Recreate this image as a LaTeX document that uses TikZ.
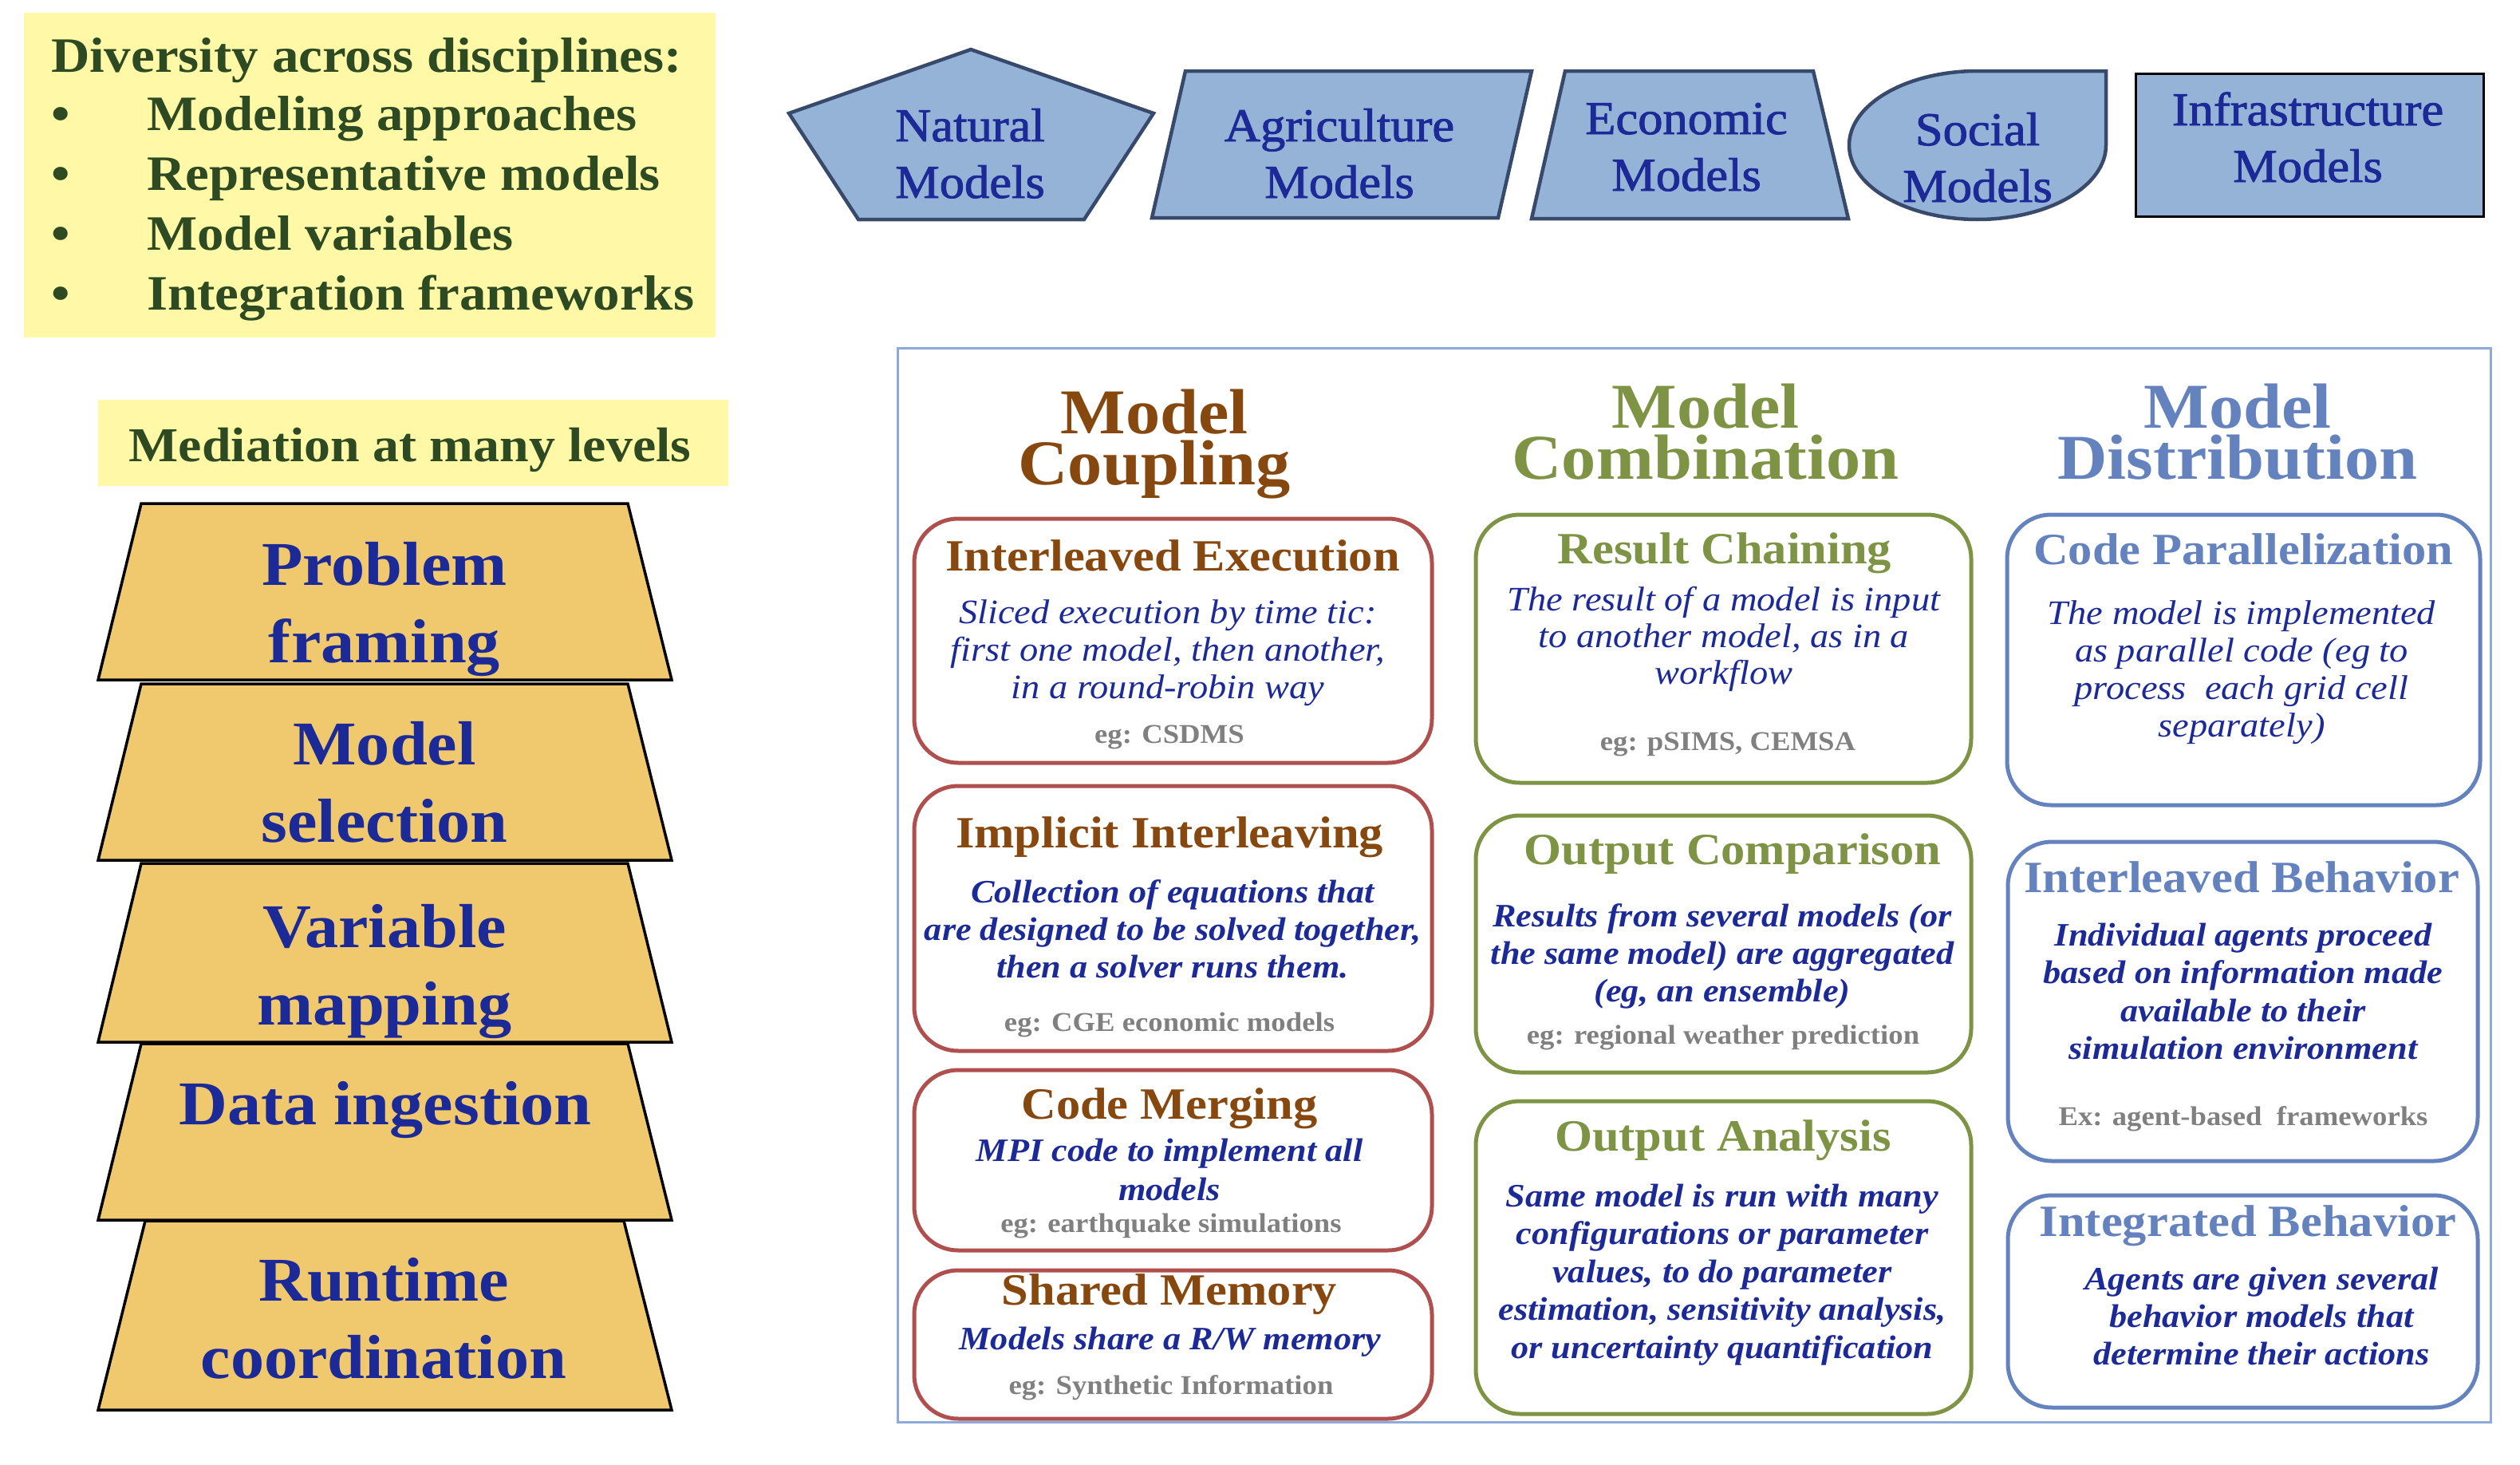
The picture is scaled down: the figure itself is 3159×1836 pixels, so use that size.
\documentclass[tikz,border=0pt]{standalone}
\usepackage{fontspec}
\setmainfont{Liberation Serif}[FakeStretch=1.08]
\newfontfamily\modelfont{Liberation Serif}[FakeStretch=1.06, FakeBold=1.6]

\definecolor{notebg}{HTML}{FFF8A6}
\definecolor{notetext}{HTML}{2E4A22}
\definecolor{modelfill}{HTML}{95B3D7}
\definecolor{modeledge}{HTML}{384A6B}
\definecolor{navy}{HTML}{1C2A97}
\definecolor{layerfill}{HTML}{F0C96E}
\definecolor{couplehead}{HTML}{87480F}
\definecolor{coupleedge}{HTML}{B0504E}
\definecolor{combohead}{HTML}{7E9444}
\definecolor{distrohead}{HTML}{6482BD}
\definecolor{framecol}{HTML}{8EAADB}
\definecolor{examplegray}{HTML}{808080}

% centred stack of lines whose baseline is the first line's baseline
\newcommand\lines[1]{\vtop{\lineskiplimit=-200pt\lineskip=0pt\halign{\hfil##\hfil\cr#1\crcr}}}

\begin{document}
\begin{tikzpicture}[x=1pt,y=-1pt,
  txt/.style={inner sep=0pt, outer sep=0pt, anchor=base},
  notetxt/.style={txt, text=notetext, font=\fontsize{62}{75}\selectfont\bfseries},
  modelshape/.style={fill=modelfill, draw=modeledge, line width=4.5, line join=miter},
  modeltext/.style={txt, text=navy, font=\modelfont\fontsize{59}{71}\selectfont},
  stacklayer/.style={fill=layerfill, draw=black, line width=3.5, line join=miter},
  layertext/.style={txt, text=navy, font=\fontsize{78}{97}\selectfont\bfseries},
  colhead/.style={txt, text=#1, font=\fontsize{80}{64}\selectfont\bfseries},
  card/.style={draw=#1, line width=5, rounded corners=55, inner sep=0pt, outer sep=0pt},
  cardtitle/.style={txt, text=#1, font=\fontsize{56}{60}\selectfont\bfseries},
  cardbody/.style={txt, text=navy, font=\fontsize{43}{47}\selectfont\itshape},
  cardbodyb/.style={txt, text=navy, font=\fontsize{41}{47}\selectfont\bfseries\itshape},
  example/.style={txt, text=examplegray, font=\fontsize{34}{40}\selectfont\bfseries},
]
\useasboundingbox (0,0) rectangle (3159,1836);
\fill[white] (0,0) rectangle (3159,1836);

% ---- diversity note ----
\node[fill=notebg, minimum width=867, minimum height=407, anchor=north west, inner sep=0pt] (divbox) at (30,16) {};
\node[notetxt, anchor=base west] (divtitle) at (64,90) {Diversity across disciplines:};
\node[notetxt, anchor=base west] (bul1) at (64,163) {\textbullet};
\node[notetxt, anchor=base west] (bul2) at (64,238) {\textbullet};
\node[notetxt, anchor=base west] (bul3) at (64,313) {\textbullet};
\node[notetxt, anchor=base west] (bul4) at (64,388) {\textbullet};
\node[notetxt, anchor=base west] (item1) at (184,163) {Modeling approaches};
\node[notetxt, anchor=base west] (item2) at (184,238) {Representative models};
\node[notetxt, anchor=base west] (item3) at (184,313) {Model variables};
\node[notetxt, anchor=base west] (item4) at (184,388) {Integration frameworks};

% ---- discipline model shapes ----
\filldraw[modelshape] (989,142) -- (1217,62) -- (1446,142) -- (1359,275) -- (1076,275) -- cycle;
\filldraw[modelshape] (1486,89) -- (1920,89) -- (1878,273) -- (1444,273) -- cycle;
\filldraw[modelshape] (1962,89) -- (2273,89) -- (2317,274) -- (1920,274) -- cycle;
\filldraw[modelshape] (2479,89) -- (2640,89) -- (2640,182)
  arc[start angle=0, end angle=270, x radius=161, y radius=93] -- cycle;
\filldraw[fill=modelfill, draw=black, line width=3] (2677,92) rectangle (3113,271);

\node[modeltext] (natural) at (1216,177) {\lines{Natural\cr Models}};
\node[modeltext] (agri) at (1679,177) {\lines{Agriculture\cr Models}};
\node[modeltext] (econ) at (2114,168) {\lines{Economic\cr Models}};
\node[modeltext] (social) at (2479,182) {\lines{Social\cr Models}};
\node[modeltext] (infra) at (2893,157) {\lines{Infrastructure\cr Models}};

% ---- mediation levels ----
\node[fill=notebg, minimum width=790, minimum height=108, anchor=north west, inner sep=0pt] (medbox) at (123,501) {};
\node[notetxt, font=\fontsize{61}{70}\selectfont\bfseries] (medtext) at (514,578) {Mediation at many levels};

\foreach \t/\b in {631/852, 857/1078, 1082/1306, 1308/1529}
  \filldraw[stacklayer] (177,\t) -- (787,\t) -- (842,\b) -- (123,\b) -- cycle;
\filldraw[stacklayer] (182,1530) -- (782,1530) -- (842,1767) -- (123,1767) -- cycle;

\node[layertext] (lv1) at (482,733) {\lines{Problem\cr framing}};
\node[layertext] (lv2) at (482,958) {\lines{Model\cr selection}};
\node[layertext] (lv3) at (482,1187) {\lines{Variable\cr mapping}};
\node[layertext] (lv4) at (483,1409) {Data ingestion};
\node[layertext] (lv5) at (481,1630) {\lines{Runtime\cr coordination}};

% ---- integration strategies frame ----
\node[draw=framecol, line width=3, minimum width=1997, minimum height=1346, anchor=north west, inner sep=0pt] (frame) at (1124,435) {};

\node[colhead=couplehead] (hcoup) at (1447,543) {\lines{Model\cr Coupling}};
\node[colhead=combohead] (hcomb) at (2138,536) {\lines{Model\cr Combination}};
\node[colhead=distrohead] (hdist) at (2805,536) {\lines{Model\cr Distribution}};

% coupling column
\node[card=coupleedge, minimum width=649, minimum height=306] (c1) at (1470.5,803) {};
\node[cardtitle=couplehead] (c1t) at (1470,715) {Interleaved Execution};
\node[cardbody] (c1b) at (1464,781) {\lines{Sliced execution by time tic:\cr first one model, then another,\cr in a round-robin way}};
\node[example] (c1e) at (1466,931) {eg: CSDMS};

\node[card=coupleedge, minimum width=649, minimum height=332] (c2) at (1470.5,1151) {};
\node[cardtitle=couplehead] (c2t) at (1466,1062) {Implicit Interleaving};
\node[cardbodyb] (c2b) at (1470,1131) {\lines{Collection of equations that\cr are designed to be solved together,\cr then a solver runs them.}};
\node[example] (c2e) at (1466,1292) {eg: CGE economic models};

\node[card=coupleedge, minimum width=649, minimum height=226] (c3) at (1470.5,1454) {};
\node[cardtitle=couplehead] (c3t) at (1466,1402) {Code Merging};
\node[cardbodyb, font=\fontsize{41}{49}\selectfont\bfseries\itshape] (c3b) at (1466,1455) {\lines{MPI code to implement all\cr models}};
\node[example] (c3e) at (1468,1544) {eg: earthquake simulations};

\node[card=coupleedge, minimum width=649, minimum height=186] (c4) at (1470.5,1685) {};
\node[cardtitle=couplehead] (c4t) at (1466,1635) {Shared Memory};
\node[cardbodyb] (c4b) at (1467,1691) {Models share a R/W memory};
\node[example] (c4e) at (1468,1747) {eg: Synthetic Information};

% combination column
\node[card=combohead, minimum width=621, minimum height=336] (m1) at (2160.5,813) {};
\node[cardtitle=combohead] (m1t) at (2162,706) {Result Chaining};
\node[cardbody, font=\fontsize{43}{46}\selectfont\itshape] (m1b) at (2161,765) {\lines{The result of a model is input\cr to another model, as in a\cr workflow}};
\node[example] (m1e) at (2166,940) {eg: pSIMS, CEMSA};

\node[card=combohead, minimum width=621, minimum height=322] (m2) at (2160.5,1183) {};
\node[cardtitle=combohead] (m2t) at (2172,1083) {Output Comparison};
\node[cardbodyb] (m2b) at (2159,1161) {\lines{Results from several models (or\cr the same model) are aggregated\cr (eg, an ensemble)}};
\node[example] (m2e) at (2160,1308) {eg: regional weather prediction};

\node[card=combohead, minimum width=621, minimum height=392] (m3) at (2160.5,1576) {};
\node[cardtitle=combohead] (m3t) at (2160,1442) {Output Analysis};
\node[cardbodyb, font=\fontsize{41}{47.5}\selectfont\bfseries\itshape] (m3b) at (2159,1512) {\lines{Same model is run with many\cr configurations or parameter\cr values, to do parameter\cr estimation, sensitivity analysis,\cr or uncertainty quantification}};

% distribution column
\node[card=distrohead, minimum width=593, minimum height=364] (d1) at (2812.5,827) {};
\node[cardtitle=distrohead] (d1t) at (2812,707) {Code Parallelization};
\node[cardbody] (d1b) at (2810,782) {\lines{The model is implemented\cr as parallel code (eg to\cr process\ \ each grid cell\cr separately)}};

\node[card=distrohead, minimum width=589, minimum height=400] (d2) at (2811.5,1255) {};
\node[cardtitle=distrohead] (d2t) at (2810,1118) {Interleaved Behavior};
\node[cardbodyb, font=\fontsize{41}{47.5}\selectfont\bfseries\itshape] (d2b) at (2812,1185) {\lines{Individual agents proceed\cr based on information made\cr available to their\cr simulation environment}};
\node[example] (d2e) at (2812,1410) {Ex: agent-based\ \ frameworks};

\node[card=distrohead, minimum width=589, minimum height=266] (d3) at (2811.5,1631) {};
\node[cardtitle=distrohead] (d3t) at (2818,1549) {Integrated Behavior};
\node[cardbodyb] (d3b) at (2835,1616) {\lines{Agents are given several\cr behavior models that\cr determine their actions}};

\end{tikzpicture}
\end{document}
